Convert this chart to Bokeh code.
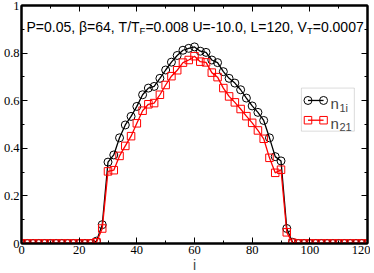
from bokeh.plotting import figure
from bokeh.models import (Range1d, SingleIntervalTicker, LinearAxis, CustomJSTickFormatter,
                          Label, BoxAnnotation)
from bokeh.embed import file_html
from bokeh.resources import INLINE

# ---------------- data ----------------
site_i = list(range(0, 121, 2))
n1i = [0]*13 + [0.010, 0.079, 0.342, 0.372, 0.444, 0.498, 0.534, 0.576, 0.625, 0.653,
                0.660, 0.694, 0.729, 0.762, 0.790, 0.812, 0.820, 0.826, 0.808, 0.803,
                0.771, 0.760, 0.722, 0.694, 0.674, 0.646, 0.611, 0.578, 0.551, 0.517,
                0.444, 0.365, 0.347, 0.063, 0.005] + [0]*13
n21 = [0]*13 + [0.005, 0.063, 0.303, 0.308, 0.368, 0.410, 0.451, 0.505, 0.558, 0.585,
                0.590, 0.625, 0.666, 0.703, 0.728, 0.760, 0.771, 0.787, 0.764, 0.761,
                0.718, 0.699, 0.653, 0.618, 0.593, 0.565, 0.535, 0.507, 0.475, 0.440,
                0.360, 0.297, 0.310, 0.047, 0.003] + [0]*13
series_labels = [("n", "1i"), ("n", "21")]
title_pieces = [("P=0.05, \u03b2=64, T/T", False), ("F", True),
                ("=0.008 U=-10.0, L=120, V", False), ("T", True), ("=0.0007", False)]
x_label = "i"

X0, X1, Y0, Y1 = 0, 120, 0, 1
FW, FH = 346, 238

p = figure(frame_width=FW, frame_height=FH, x_range=Range1d(X0, X1), y_range=Range1d(Y0, Y1),
           output_backend="svg", toolbar_location=None,
           min_border_left=18, min_border_right=3, min_border_top=5, min_border_bottom=24)
p.xgrid.visible = False
p.ygrid.visible = False
p.outline_line_color = "black"
p.outline_line_width = 2
p.background_fill_color = "white"
p.border_fill_color = "white"

fmt = CustomJSTickFormatter(code="return String(Number(tick.toFixed(1)));")

def style_axis(ax, interval, labels=True):
    ax.ticker = SingleIntervalTicker(interval=interval, num_minor_ticks=2)
    ax.axis_line_color = "black"
    ax.axis_line_width = 2
    ax.major_tick_in = 6
    ax.major_tick_out = 0
    ax.minor_tick_in = 3
    ax.minor_tick_out = 0
    ax.major_tick_line_width = 1
    ax.minor_tick_line_width = 1
    ax.formatter = fmt
    if labels:
        ax.major_label_text_font = "'Liberation Serif', 'Times New Roman', serif"
        ax.major_label_text_font_size = "12.5px"
        ax.major_label_text_color = "black"
        ax.major_label_standoff = 2
    else:
        ax.major_label_text_font_size = "1px"
        ax.major_label_text_color = None
        ax.major_label_standoff = 0

style_axis(p.xaxis[0], 20)
style_axis(p.yaxis[0], 0.2)
p.xaxis[0].axis_label = x_label
p.xaxis[0].axis_label_text_font = "Liberation Sans"
p.xaxis[0].axis_label_text_font_style = "normal"
p.xaxis[0].axis_label_text_font_size = "14px"
p.xaxis[0].axis_label_standoff = 0

top = LinearAxis()
style_axis(top, 20, labels=False)
p.add_layout(top, "above")
right = LinearAxis()
style_axis(right, 0.2, labels=False)
p.add_layout(right, "right")

# ---------------- series ----------------
p.line(site_i, n1i, line_color="black", line_width=1.3)
p.scatter(site_i, n1i, marker="circle", size=8, line_color="black", fill_color=None, line_width=1)
p.line(site_i, n21, line_color="red", line_width=1.3)
p.scatter(site_i, n21, marker="square", size=7.5, line_color="red", fill_color=None, line_width=1)

# helpers: fractions of the frame -> data coords
def fx(f):
    return X0 + f * (X1 - X0)

def fy(f):  # f measured from top
    return Y1 - f * (Y1 - Y0)

# ---------------- in-plot title with subscripts ----------------
W = {"P": 667, "=": 584, ".": 278, ",": 278, " ": 278, "\u03b2": 573, "T": 611, "/": 278,
     "F": 611, "U": 722, "-": 333, "L": 556, "V": 667}
for d in "0123456789":
    W[d] = 556
MAIN, SUB = 14, 9.5
xpx = 5.0
for txt, sub in title_pieces:
    size = SUB if sub else MAIN
    base = 25.0 if sub else 21.5
    p.add_layout(Label(x=fx(xpx / FW), y=fy(base / FH), text=txt, text_font="Liberation Sans",
                       text_font_size=f"{size}px", text_baseline="alphabetic", text_align="left",
                       text_color="black"))
    xpx += sum(W.get(c, 556) for c in txt) / 1000 * size

# ---------------- legend ----------------
p.add_layout(BoxAnnotation(left=fx(0.809), right=fx(0.962), top=fy(0.347), bottom=fy(0.528),
                           fill_color="white", fill_alpha=1, line_color="#8c8c8c", line_width=1,
                           level="annotation"))
rows = [(0.399, "black", "circle", 8), (0.482, "red", "square", 7.5)]
for (yr, col, mk, ms), (main, sub) in zip(rows, series_labels):
    lx = [fx(0.828), fx(0.873)]
    ly = [fy(yr), fy(yr)]
    p.line(lx, ly, line_color=col, line_width=1.3, level="overlay")
    p.scatter(lx, ly, marker=mk, size=ms, line_color=col, fill_color=None, level="overlay")
    p.add_layout(Label(x=fx(0.893), y=fy(yr + 0.014), text=main, text_font="Liberation Sans",
                       text_font_size="15px", text_baseline="alphabetic", level="overlay"))
    p.add_layout(Label(x=fx(0.919), y=fy(yr + 0.03), text=sub, text_font="Liberation Sans",
                       text_font_size="11px", text_baseline="alphabetic", level="overlay"))

open("out.html", "w").write(file_html(p, INLINE))
